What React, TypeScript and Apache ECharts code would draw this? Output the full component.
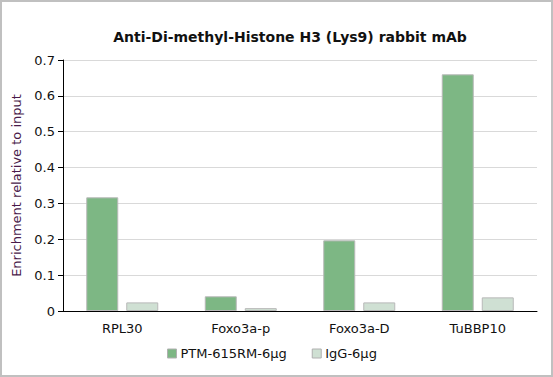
import React, { useEffect, useRef } from "react";
import * as echarts from "echarts";

const categories = ["RPL30", "Foxo3a-p", "Foxo3a-D", "TuBBP10"];
const seriesNames = ["PTM-615RM-6μg", "IgG-6μg"];
const ptmValues = [0.317, 0.041, 0.197, 0.66];
const iggValues = [0.024, 0.008, 0.024, 0.038];
const yTicks = { min: 0, max: 0.7, interval: 0.1 };

const FONT = "DejaVu Sans";

export default function App() {
  const ref = useRef<HTMLDivElement>(null);
  useEffect(() => {
    if (!ref.current) return;
    const chart = echarts.init(ref.current, null, { renderer: "svg" });
    chart.setOption({
      animation: false,
      backgroundColor: "#ffffff",
      textStyle: { fontFamily: FONT },
      title: {
        text: "Anti-Di-methyl-Histone H3 (Lys9) rabbit mAb",
        left: 285,
        textAlign: "center",
        top: 25,
        textStyle: { fontFamily: FONT, fontSize: 14, fontWeight: "bold", color: "#111" },
      },
      graphic: [
        {
          type: "rect",
          shape: { x: 1, y: 1, width: 551, height: 375 },
          style: { fill: "none", stroke: "#c0c0c0", lineWidth: 2 },
          silent: true,
        },
      ],
      legend: {
        bottom: 12,
        left: 162,
        itemWidth: 9,
        itemHeight: 9,
        itemGap: 25,
        icon: "rect",
        itemStyle: { borderColor: "#b0b0b0", borderWidth: 1 },
        textStyle: { fontFamily: FONT, fontSize: 13, color: "#111", padding: [0, 0, 0, -1] },
        data: seriesNames,
      },
      grid: { left: 63, right: 16, top: 60, bottom: 66, containLabel: false },
      xAxis: {
        type: "category",
        data: categories,
        axisLine: { lineStyle: { color: "#000", width: 1 } },
        axisTick: { alignWithLabel: true, length: 5, lineStyle: { color: "#000" } },
        axisLabel: { fontFamily: FONT, fontSize: 13, color: "#111", margin: 11 },
      },
      yAxis: {
        type: "value",
        min: yTicks.min,
        max: yTicks.max,
        interval: yTicks.interval,
        name: "Enrichment relative to input",
        nameLocation: "middle",
        nameGap: 32,
        nameTextStyle: { fontFamily: FONT, fontSize: 13, color: "#4a1a4a" },
        axisLine: { show: true, lineStyle: { color: "#000", width: 1 } },
        axisTick: { show: true, length: 5, lineStyle: { color: "#000" } },
        axisLabel: { fontFamily: FONT, fontSize: 13, color: "#111", margin: 8 },
        splitLine: { lineStyle: { color: "#d9d9d9", width: 1 } },
      },
      series: [
        {
          name: seriesNames[0],
          type: "bar",
          data: ptmValues,
          barWidth: 32,
          barGap: "25%",
          itemStyle: { color: "#7db784", borderColor: "#b8b8b8", borderWidth: 1 },
        },
        {
          name: seriesNames[1],
          type: "bar",
          data: iggValues,
          barWidth: 32,
          barGap: "25%",
          itemStyle: { color: "#cfe0d3", borderColor: "#b8b8b8", borderWidth: 1 },
        },
      ],
    });
    return () => chart.dispose();
  }, []);
  return (
    <div
      ref={ref}
      style={{ position: "absolute", left: 0, top: 0, width: 553, height: 377 }}
    />
  );
}
